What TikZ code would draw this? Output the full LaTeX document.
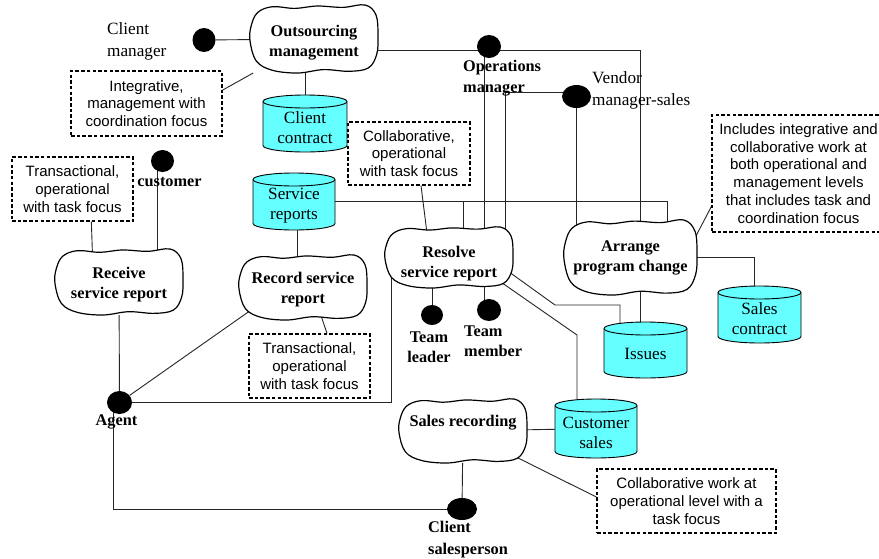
\documentclass[tikz,border=0pt]{standalone}
\usepackage{fontspec}
\setmainfont{Liberation Serif}
\newfontfamily\notefont{Liberation Sans}
\usetikzlibrary{shapes.geometric,calc}
\pgfdeclarelayer{background}
\pgfsetlayers{background,main}
\definecolor{drumcyan}{RGB}{102,255,255}

\tikzset{
  wire/.style={draw=black!85, line width=0.9pt},
  cloudline/.style={draw=black, line width=1.2pt, fill=white},
  frame/.style={draw=none, rectangle, inner sep=0pt, outer sep=0pt},
  proc/.style={font=\fontsize{16.3}{20}\selectfont\bfseries, align=center, inner sep=0pt},
  storetext/.style={font=\fontsize{17.2}{20}\selectfont, align=center, inner sep=0pt},
  drumline/.style={draw=black, line width=0.9pt, fill=drumcyan},
  role/.style={ellipse, fill=black, inner sep=0pt},
  rolename/.style={font=\fontsize{17.2}{22}\selectfont, align=left, inner sep=0pt},
  rolebold/.style={font=\fontsize{16.3}{21}\selectfont\bfseries, align=left, inner sep=0pt},
  note/.style={draw=black, line width=1.3pt, dash pattern=on 3.5pt off 2.2pt,
    fill=white, font=\notefont\fontsize{15}{17.8}\selectfont, align=center, inner sep=0pt},
}

% process: hand-drawn blob with a text node; #1 name, #2/#3 centre, #4/#5 half sizes,
% #6 vertical offset of the text, #7 text
\newcommand{\blobnode}[7]{%
  \filldraw[cloudline, shift={(#2,#3)}, xscale=#4, yscale=#5]
    plot[smooth cycle, tension=0.6] coordinates {(-1.00,0.05) (-0.98,-0.40) (-0.88,-0.78)
      (-0.65,-0.95) (-0.30,-0.90) (0.05,-0.97) (0.45,-0.93) (0.80,-1.00) (0.97,-0.70)
      (1.00,-0.10) (0.98,0.45) (0.85,0.85) (0.55,0.95) (0.15,0.90) (-0.25,1.00)
      (-0.65,0.92) (-0.90,0.65)};
  \node[frame, minimum width={2*#4pt}, minimum height={2*#5pt}] (#1) at (#2,#3) {};
  \node[proc] (#1-t) at ({#2},{#3+(#6)}) {#7};
}

% data store: cyan cylinder; #1 name, #2/#3 centre, #4 width, #5 height, #6 text
\newcommand{\drumnode}[6]{%
  \pgfmathsetmacro\dL{#2-#4/2}\pgfmathsetmacro\dR{#2+#4/2}%
  \pgfmathsetmacro\dT{#3-#5/2+6.5}\pgfmathsetmacro\dB{#3+#5/2-6.5}%
  \pgfmathsetmacro\dRx{#4/2}%
  \filldraw[drumline] (\dL,\dT) -- (\dL,\dB)
    arc[start angle=180, end angle=360, x radius=\dRx pt, y radius=6.5pt]
    -- (\dR,\dT)
    arc[start angle=0, end angle=180, x radius=\dRx pt, y radius=6.5pt] -- cycle;
  \draw[drumline, fill=none] (\dL,\dT)
    arc[start angle=180, end angle=360, x radius=\dRx pt, y radius=6.5pt];
  \node[frame, minimum width={#4pt}, minimum height={#5pt}] (#1) at (#2,#3) {};
  \node[storetext] (#1-t) at ({#2},{#3+4}) {#6};
}

\begin{document}
\begin{tikzpicture}[x=1pt, y=-1pt]
\useasboundingbox (0,0) rectangle (879,558);

% processes
\blobnode{out}{314}{39}{64}{34}{4}{Outsourcing\\management}
\blobnode{recv}{119}{282}{64}{33}{3}{Receive\\service report}
\blobnode{rec}{303}{287.5}{64}{32.5}{2}{Record service\\report}
\blobnode{res}{449}{257.5}{64}{30.5}{6.5}{Resolve\\service report}
\blobnode{arr}{630.5}{257.5}{66.5}{37.5}{0}{Arrange\\program change}
\blobnode{sal}{463}{431}{64}{32}{-8}{Sales recording}

% data stores
\drumnode{cc}{305}{123.5}{84}{57}{Client\\contract}
\drumnode{sr}{294}{201.5}{82}{57}{Service\\reports}
\drumnode{iss}{645.5}{350}{83}{56}{Issues}
\drumnode{sc}{759.5}{314.5}{83}{57}{Sales\\contract}
\drumnode{cs}{596}{428.5}{82}{59}{Customer\\sales}

% roles
\node[role, minimum width=23pt, minimum height=24pt] (cm) at (204,40) {};
\node[role, minimum width=24pt, minimum height=23pt] (opm) at (489,46.5) {};
\node[role, minimum width=29pt, minimum height=23pt] (vms) at (576.5,96.5) {};
\node[role, minimum width=23pt, minimum height=22pt] (cust) at (162.5,161) {};
\node[role, minimum width=25pt, minimum height=23pt] (agent) at (119.5,402.5) {};
\node[role, minimum width=22pt, minimum height=20pt] (tl) at (432,315) {};
\node[role, minimum width=24pt, minimum height=22pt] (tm) at (489,310) {};
\node[role, minimum width=30pt, minimum height=22pt] (csp) at (462,509) {};

\node[rolename, anchor=west] (cm-l) at (107,41) {Client\\manager};
\node[rolebold, anchor=west] (opm-l) at (463,78) {Operations\\manager};
\node[rolename, anchor=west] (vms-l) at (592,90.5) {Vendor\\manager-sales};
\node[rolebold] (cust-l) at (169.5,182) {customer};
\node[rolebold] (agent-l) at (116.5,422) {Agent};
\node[rolebold, align=center, font=\fontsize{16.3}{20}\selectfont\bfseries] (tl-l) at (429,347) {Team\\leader};
\node[rolebold, anchor=west, font=\fontsize{16.3}{20}\selectfont\bfseries] (tm-l) at (464,341) {Team\\member};
\node[rolebold, anchor=west, font=\fontsize{16.3}{22}\selectfont\bfseries] (csp-l) at (428,540) {Client\\salesperson};

% annotations
\node[note, minimum width=151pt, minimum height=65pt] (ann1) at (146.5,103.5)
  {Integrative,\\management with\\coordination focus};
\node[note, minimum width=121pt, minimum height=64pt] (ann2) at (72.5,189)
  {Transactional,\\operational\\with task focus};
\node[note, minimum width=122pt, minimum height=63pt] (ann3) at (409,153.5)
  {Collaborative,\\operational\\with task focus};
\node[note, minimum width=121pt, minimum height=64pt] (ann4) at (309.5,366)
  {Transactional,\\operational\\with task focus};
\node[note, minimum width=173pt, minimum height=117pt] (ann5) at (798.5,173.5)
  {Includes integrative and\\collaborative work at\\both operational and\\management levels\\that includes task and\\coordination focus};
\node[note, minimum width=179pt, minimum height=64pt] (ann6) at (686.5,501)
  {Collaborative work at\\operational level with a\\task focus};

% bend points
\coordinate (kCs) at (577,335);
\coordinate (kIs) at (555,305);

\begin{pgfonlayer}{background}
  \fill[white] (0,0) rectangle (879,558);
  % roles to processes
  \draw[wire] (cm) -- (out);
  \draw[wire] ([yshift=-11pt]out.center) -| ([xshift=9.5pt]arr.center);
  \draw[wire] ([xshift=-5pt]opm.center) |- (res.center);
  \draw[wire] ([yshift=4pt]vms.center) -| ([xshift=56pt]res.center);
  \draw[wire] (vms) |- (arr);
  \draw[wire] ([xshift=-5pt]cust.center) |- (recv.center);
  \draw[wire] (recv) -- (agent);
  \draw[wire] (agent) -- ([yshift=14pt]rec.center);
  \draw[wire] (agent) -| ([xshift=-58pt,yshift=-17pt]res.center);
  \draw[wire] ([xshift=-6pt]agent.center) |- (csp);
  \draw[wire] (csp) -- (sal);
  \draw[wire] (tl) |- (res);
  \draw[wire] ([xshift=-5pt]tm.center) |- (res);
  % processes to stores
  \draw[wire] (cc) |- (out);
  \draw[wire] ([xshift=3pt]sr.center) |- (rec);
  \draw[wire] (sr) -| ([xshift=36.5pt]arr.center);
  \draw[wire] ([xshift=14pt]res.center) |- (sr);
  \draw[wire] ([yshift=11.5pt]res.center) -- (kCs) |- (cs);
  \draw[wire] ([xshift=40pt]res.center) -- (kIs) -| ([xshift=-25.5pt]iss.center);
  \draw[wire] ([xshift=9.5pt]arr.center) |- (iss);
  \draw[wire] (arr) -| ([xshift=-5.5pt]sc.center);
  \draw[wire] (sal) -- (cs);
  % annotations
  \draw[wire] (ann1.10) -- (out);
  \draw[wire, shorten >=-6pt] (ann2.-60) -- (recv.129);
  \draw[wire] ([xshift=12pt]ann3.south) -- ([xshift=-20.5pt,yshift=12.5pt]res.center);
  \draw[wire] ([xshift=8.5pt]rec.center) -- ([xshift=17.5pt]ann4.north);
  \draw[wire] ([xshift=60pt,yshift=11pt]arr.center) -- ([yshift=-33pt]ann5.west);
  \draw[wire] ([xshift=25pt,yshift=-12pt]sal.center) -- ([yshift=4pt]ann6.west);
\end{pgfonlayer}
\end{tikzpicture}
\end{document}
